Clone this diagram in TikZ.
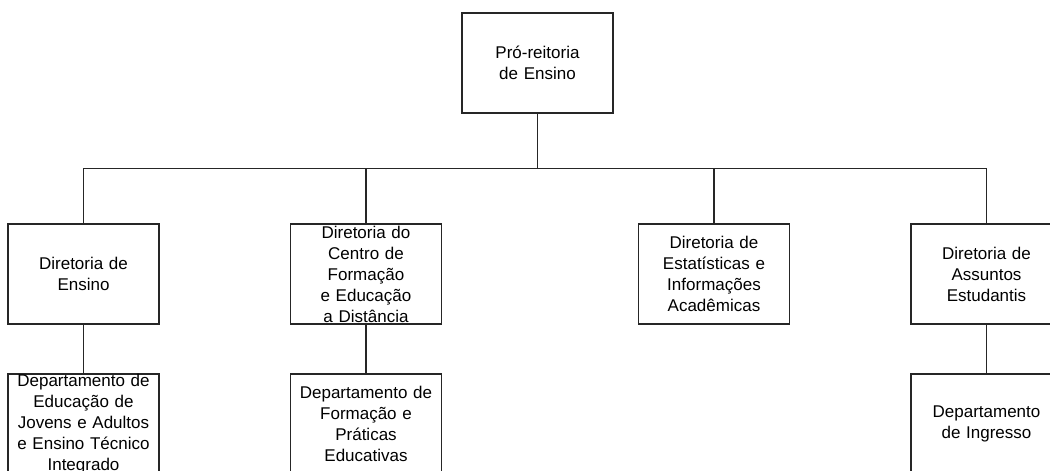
\documentclass[tikz,border=0pt]{standalone}
\usepackage{fontspec}
\setmainfont{Liberation Sans}
\usetikzlibrary{positioning}

\begin{document}
\begin{tikzpicture} [draw=black!85,
			node distance = 75pt,
			on grid,
			line width=0.7pt,
			orgbox/.style={draw, rectangle, inner sep=0pt,
				minimum width=75.5pt, minimum height=50pt,
				text width=72pt, align=center,
				font=\fontsize{8.5pt}{10.5pt}\selectfont},
		]

		\useasboundingbox (0,0) rectangle (525pt,-235.5pt);

		% Top
		\node (pro) [orgbox] at (268.75pt,-31.5pt) {Pró-reitoria\\de Ensino};
		% Diretorias
		\node (dirEns) [orgbox,
			below left = 105.5pt and 227pt of pro] {Diretoria de\\Ensino};
		\node (dirCfe) [orgbox,
			below left = 105.5pt and 85.75pt of pro] {Diretoria do\\Centro de\\Formação\\e Educação\\a Distância};
		\node (dirEst) [orgbox,
			below right = 105.5pt and 88.25pt of pro] {Diretoria de\\Estatísticas e\\Informações\\Acadêmicas};
		\node (dirAss) [orgbox,
			below right = 105.5pt and 224.5pt of pro] {Diretoria de\\Assuntos\\Estudantis};
		% Departamentos
		\node (depEja) [orgbox,
			below = of dirEns] {Departamento de\\Educação de\\Jovens e Adultos\\e Ensino Técnico\\Integrado};
		\node (depFor) [orgbox,
			below = of dirCfe] {Departamento de\\Formação e\\Práticas\\Educativas};
		\node (depIng) [orgbox,
			below = of dirAss] {Departamento\\de Ingresso};
		% Lines
		\coordinate (bus) at ([yshift=-27.5pt]pro.south);
		\draw (pro.south) -- (bus);
		\draw (dirEns.north) |- (bus) -| (dirAss.north);
		\draw (dirCfe.north) -- (dirCfe.north |- bus);
		\draw (dirEst.north) -- (dirEst.north |- bus);
		\draw (dirEns) -- (depEja);
		\draw (dirCfe) -- (depFor);
		\draw (dirAss) -- (depIng);
	\end{tikzpicture}
\end{document}
